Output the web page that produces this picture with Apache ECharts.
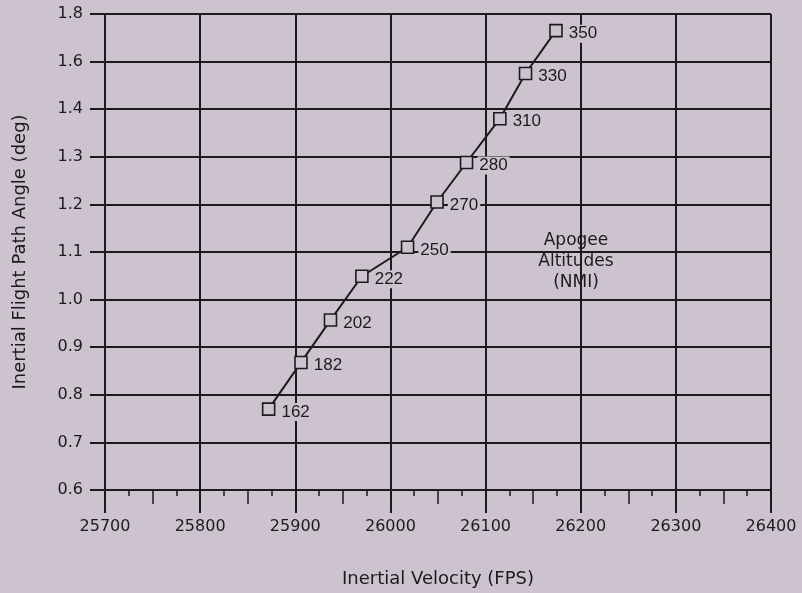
<!DOCTYPE html>
<html>
<head>
<meta charset="utf-8">
<script src="https://cdn.jsdelivr.net/npm/echarts@6/dist/echarts.min.js"></script>
<style>
html,body{margin:0;padding:0;background:#cdc3cf;}
#c{width:802px;height:593px;}
</style>
</head>
<body>
<div id="c"></div>
<script>
// Data
var velocity = [25872, 25906, 25937, 25970, 26018, 26049, 26080, 26115, 26142, 26174];
var pathAngle = [0.770, 0.868, 0.957, 1.049, 1.110, 1.205, 1.288, 1.380, 1.550, 1.730];
var apogee = ['162', '182', '202', '222', '250', '270', '280', '310', '330', '350'];
var yTickValues = [0.6, 0.7, 0.8, 0.9, 1.0, 1.1, 1.2, 1.3, 1.4, 1.6, 1.8];
var xTicks = [25700, 25800, 25900, 26000, 26100, 26200, 26300, 26400];

var BG = '#cdc3cf';
var INK = '#1c1a1e';
var FONT = '"DejaVu Sans", "Liberation Sans", Arial, sans-serif';
var LFONT = '"Liberation Sans", Arial, sans-serif';

// the printed y axis has evenly spaced gridlines but uneven labels:
// map a degree value onto gridline index
function toAxis(v) {
  for (var i = 0; i < yTickValues.length - 1; i++) {
    if (v <= yTickValues[i + 1]) {
      return i + (v - yTickValues[i]) / (yTickValues[i + 1] - yTickValues[i]);
    }
  }
  return yTickValues.length - 1;
}

var pts = velocity.map(function (x, i) {
  return { value: [x, toAxis(pathAngle[i])], name: apogee[i] };
});

var chart = echarts.init(document.getElementById('c'), null, { renderer: 'canvas' });
chart.setOption({
  backgroundColor: BG,
  animation: false,
  textStyle: { fontFamily: FONT },
  grid: { left: 105, right: 31, top: 14, bottom: 96, containLabel: false },
  xAxis: [{
    type: 'value',
    min: xTicks[0], max: xTicks[xTicks.length - 1], interval: 100,
    name: 'Inertial Velocity (FPS)',
    nameLocation: 'middle', nameGap: 80,
    nameTextStyle: { color: INK, fontSize: 18, fontFamily: FONT },
    axisLine: { show: true, lineStyle: { color: INK, width: 2 } },
    axisTick: { show: true, length: 23, lineStyle: { color: INK, width: 2 } },
    minorTick: { show: true, splitNumber: 4, length: 6, lineStyle: { color: INK, width: 1.5 } },
    axisLabel: {
      color: INK, fontSize: 16, margin: 29, fontFamily: FONT,
      formatter: function (v) { return String(v); }
    },
    splitLine: { show: true, lineStyle: { color: INK, width: 2 } }
  }, {
    type: 'value',
    position: 'bottom',
    min: xTicks[0], max: xTicks[xTicks.length - 1], interval: 50,
    axisLine: { show: false },
    axisTick: { show: true, length: 14, lineStyle: { color: INK, width: 1.5 } },
    axisLabel: { show: false },
    splitLine: { show: false }
  }],
  yAxis: {
    type: 'value',
    min: 0, max: yTickValues.length - 1, interval: 1,
    name: 'Inertial Flight Path Angle (deg)',
    nameLocation: 'middle', nameGap: 76,
    nameTextStyle: { color: INK, fontSize: 18, fontFamily: FONT },
    axisLine: { show: true, lineStyle: { color: INK, width: 2 } },
    axisTick: { show: true, length: 15, lineStyle: { color: INK, width: 2 } },
    axisLabel: {
      color: INK, fontSize: 16, margin: 22, fontFamily: FONT,
      formatter: function (v) {
        var i = Math.round(v);
        return yTickValues[i] !== undefined ? yTickValues[i].toFixed(1) : '';
      }
    },
    splitLine: { show: true, lineStyle: { color: INK, width: 2 } }
  },
  series: [{
    type: 'line',
    data: pts,
    xAxisIndex: 0,
    symbol: 'rect',
    symbolSize: 12,
    showAllSymbol: true,
    z: 5,
    lineStyle: { color: INK, width: 2 },
    itemStyle: { color: BG, borderColor: INK, borderWidth: 1.6 },
    label: {
      show: true,
      position: 'right',
      distance: 4,
      offset: [0, 3],
      formatter: function (p) { return p.name; },
      color: INK,
      fontSize: 17,
      fontFamily: LFONT,
      backgroundColor: BG,
      padding: [1, 2, 0, 2]
    }
  }],
  graphic: [{
    type: 'group',
    left: 527,
    top: 225,
    z: 10,
    children: [{
      type: 'rect',
      shape: { x: 0, y: 0, width: 98, height: 73 },
      style: { fill: BG }
    }, {
      type: 'text',
      x: 49, y: 37,
      style: {
        text: 'Apogee\nAltitudes\n(NMI)',
        fill: INK,
        font: '17px ' + FONT,
        lineHeight: 21,
        align: 'center',
        verticalAlign: 'middle'
      }
    }]
  }]
});
</script>
</body>
</html>
